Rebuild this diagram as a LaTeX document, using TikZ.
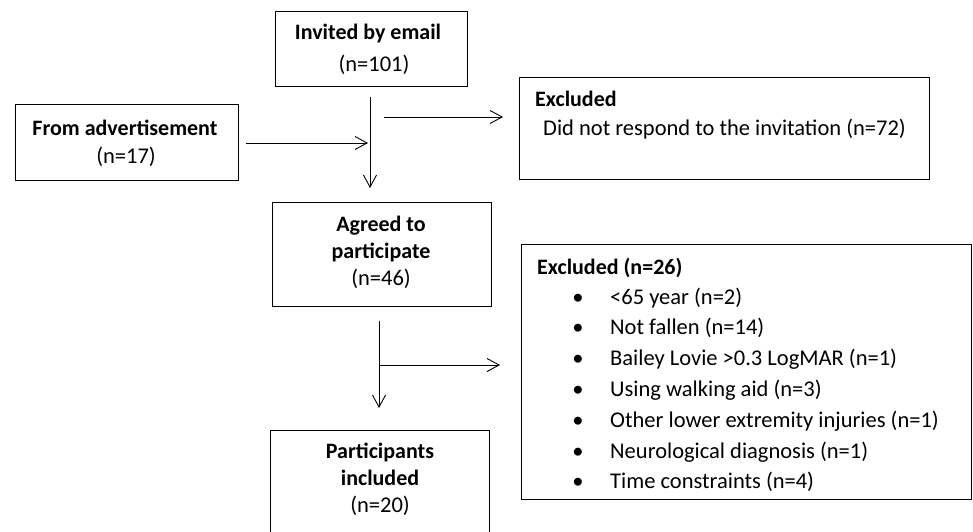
\documentclass[tikz,border=0pt]{standalone}
\usepackage{fontspec}
\setmainfont{Carlito}
\usetikzlibrary{arrows.meta}
\begin{document}
\begin{tikzpicture}[x=1pt,y=-1pt,
  box/.style={draw, line width=1.3pt, inner sep=0pt, anchor=north west},
  txt/.style={inner sep=0pt, anchor=base, font=\fontsize{22.5}{27}\selectfont},
  btxt/.style={txt, font=\fontsize{22}{27}\selectfont\bfseries},
  ltxt/.style={txt, anchor=base west},
  lbtxt/.style={btxt, anchor=base west},
  conn/.style={line width=0.9pt},
  arr/.style={conn, -{Straight Barb[length=12pt,width=13pt,line width=0.9pt]}}
]
\useasboundingbox (0,0) rectangle (973,531);
% boxes
\node[box, minimum width=192pt, minimum height=75pt] (inv) at (275,11) {};
\node[box, minimum width=223pt, minimum height=76pt] (adv) at (15,104) {};
\node[box, minimum width=410pt, minimum height=102pt] (ex1) at (519,77) {};
\node[box, minimum width=219pt, minimum height=104pt] (agr) at (272,202) {};
\node[box, minimum width=450pt, minimum height=255pt] (ex2) at (521,244) {};
\node[box, minimum width=219pt, minimum height=110pt] (par) at (270,430) {};
% texts
\node[btxt] (invt) at (368,39) {Invited by email};
\node[txt] (invn) at (374,71) {(n=101)};
\node[btxt] (advt) at (125,135) {From advertisement};
\node[txt] (advn) at (126,163) {(n=17)};
\node[lbtxt] (ex1t) at (535,106) {Excluded};
\node[ltxt] (ex1a) at (543,135) {Did not respond to the invitation (n=72)};
\node[btxt] (agrt1) at (381,231) {Agreed to};
\node[btxt] (agrt2) at (381,258) {participate};
\node[txt] (agrn) at (381,285) {(n=46)};
\node[btxt] (part1) at (380,458) {Participants};
\node[btxt] (part2) at (380,485) {included};
\node[txt] (parn) at (380,512) {(n=20)};
\node[lbtxt] (ex2t) at (537,274) {Excluded (n=26)};
\foreach \i/\t in {0/{<65 year (n=2)},1/{Not fallen (n=14)},2/{Bailey Lovie >0.3 LogMAR (n=1)},3/{Using walking aid (n=3)},4/{Other lower extremity injuries (n=1)},5/{Neurological diagnosis (n=1)},6/{Time constraints (n=4)}}{
  \node[txt] (b\i) at (578,304+30.8*\i) {•};
  \node[ltxt] (l\i) at (610,304+30.8*\i) {\t};
}
% connectors
\coordinate (v1a) at (370,97);
\coordinate (v1b) at (370,188);
\coordinate (h1a) at (384,117);
\coordinate (h1b) at (503,117);
\coordinate (h0a) at (246,143);
\coordinate (h0b) at (368,143);
\coordinate (v2a) at (379,321);
\coordinate (v2b) at (379,408);
\coordinate (h2a) at (379,365);
\coordinate (h2b) at (500,365);
\draw[arr] (v1a) -- (v1b);
\draw[arr] (h1a) -- (h1b);
\draw[arr] (h0a) -- (h0b);
\draw[arr] (v2a) -- (v2b);
\draw[arr] (h2a) -- (h2b);
\end{tikzpicture}
\end{document}
